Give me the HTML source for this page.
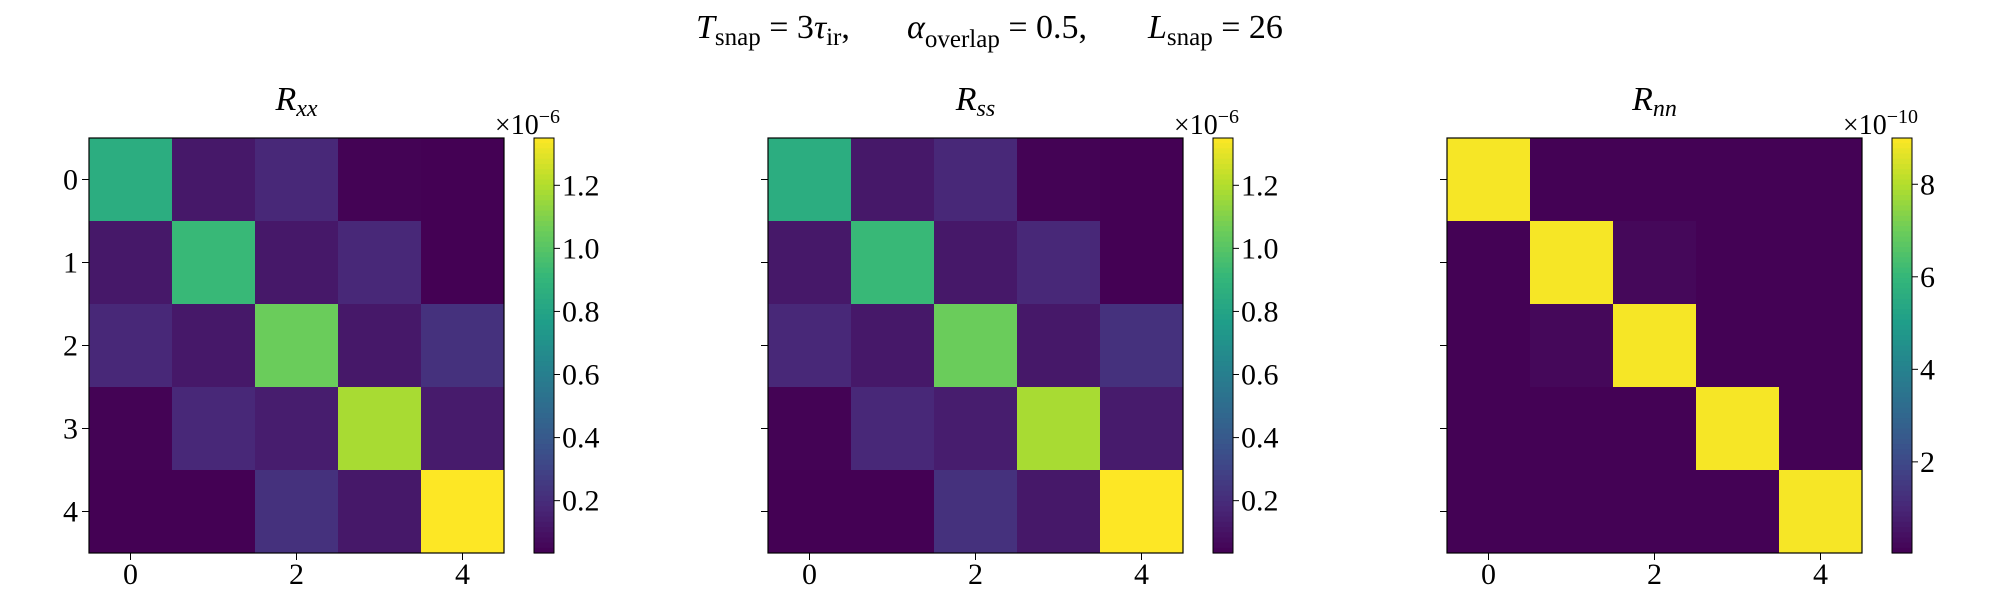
<!DOCTYPE html>
<html><head><meta charset="utf-8">
<style>
html,body{margin:0;padding:0;background:#fff;}
svg text{font-family:"Liberation Serif",serif;fill:#000;}
</style></head>
<body>
<svg id="fig" width="2000" height="600" viewBox="0 0 2000 600" xmlns="http://www.w3.org/2000/svg">
<g font-size="34">
<text x="696" y="38"><tspan font-style="italic">T</tspan><tspan font-size="25" dy="7">snap</tspan><tspan dy="-7"> = 3</tspan><tspan font-style="italic">τ</tspan><tspan font-size="25" dy="7">ir</tspan><tspan dy="-7">,</tspan></text>
<text x="907" y="38"><tspan font-style="italic">α</tspan><tspan font-size="25" dy="9">overlap</tspan><tspan dy="-9"> = 0.5,</tspan></text>
<text x="1148" y="38"><tspan font-style="italic">L</tspan><tspan font-size="25" dy="7">snap</tspan><tspan dy="-7"> = 26</tspan></text>
</g>
</svg>
<script>
const categories = [0,1,2,3,4];
const rxxValues = [
 [0.85,0.12,0.18,0.04,0.035],
 [0.12,0.92,0.12,0.18,0.035],
 [0.18,0.12,1.05,0.12,0.22],
 [0.04,0.18,0.14,1.18,0.13],
 [0.035,0.035,0.22,0.12,1.35]];
const rssValues = [
 [0.85,0.12,0.18,0.04,0.035],
 [0.12,0.92,0.12,0.18,0.035],
 [0.18,0.12,1.05,0.12,0.22],
 [0.04,0.18,0.14,1.18,0.13],
 [0.035,0.035,0.22,0.12,1.35]];
const rnnValues = [
 [8.9,0.05,0.05,0.05,0.05],
 [0.05,8.9,0.2,0.05,0.05],
 [0.05,0.2,8.9,0.05,0.05],
 [0.05,0.05,0.05,8.9,0.05],
 [0.05,0.05,0.05,0.05,8.9]];
const xTickLabels = [0,2,4];
const yTickLabels = [0,1,2,3,4];
const cbTicksR = [0.2,0.4,0.6,0.8,1.0,1.2];
const cbTicksN = [2,4,6,8];

const NS="http://www.w3.org/2000/svg";
const svg=document.getElementById('fig');
function mk(tag,attrs,parent){const e=document.createElementNS(NS,tag);for(const k in attrs)e.setAttribute(k,attrs[k]);(parent||svg).appendChild(e);return e;}
const VIR=[[68,1,84],[72,40,120],[62,74,137],[49,104,142],[38,130,142],[31,158,137],[53,183,121],[109,205,89],[180,222,44],[253,231,37]];
function viridis(t){t=Math.max(0,Math.min(1,t));const p=t*(VIR.length-1);const i=Math.min(Math.floor(p),VIR.length-2);const f=p-i;const a=VIR[i],b=VIR[i+1];return 'rgb('+a.map((v,k)=>Math.round(v+(b[k]-v)*f)).join(',')+')';}

const panels=[
 {name:'rxx',left:89,vals:rxxValues,vmin:0.034,vmax:1.35,ticks:cbTicksR,fmt:v=>v.toFixed(1),exp:'−6',title:'xx',ylabels:true},
 {name:'rss',left:768,vals:rssValues,vmin:0.034,vmax:1.35,ticks:cbTicksR,fmt:v=>v.toFixed(1),exp:'−6',title:'ss',ylabels:false},
 {name:'rnn',left:1447,vals:rnnValues,vmin:0.03,vmax:9.0,ticks:cbTicksN,fmt:v=>String(v),exp:'−10',title:'nn',ylabels:false}];
const TOP=138,SIZE=415,BOTTOM=TOP+SIZE;
panels.forEach(p=>{
  const g=mk('g',{});
  
  
  const cw=SIZE/categories.length;
  const xs=c=>p.left+(c+0.5)*cw, ys=r=>TOP+(r+0.5)*cw;
  const norm=v=>(v-p.vmin)/(p.vmax-p.vmin);
  p.vals.forEach((row,r)=>row.forEach((v,c)=>{
    const cell=mk('rect',{x:xs(c)-cw/2,y:ys(r)-cw/2,width:cw+0.5,height:cw+0.5,fill:viridis(norm(v))},g);
    
    
  }));
  const fr=mk('rect',{x:p.left,y:TOP,width:SIZE,height:SIZE,fill:'none',stroke:'#000','stroke-width':1.2},g);
  
  
  xTickLabels.forEach(t=>{
    mk('line',{x1:xs(t),x2:xs(t),y1:BOTTOM,y2:BOTTOM+7,stroke:'#000','stroke-width':1},g);
    const tx=mk('text',{x:xs(t),y:BOTTOM+31,'font-size':30,'text-anchor':'middle'},g);
    tx.textContent=t;
    
    
  });
  yTickLabels.forEach(t=>{
    mk('line',{x1:p.left-7,x2:p.left,y1:ys(t),y2:ys(t),stroke:'#000','stroke-width':1},g);
    if(p.ylabels){
      const tx=mk('text',{x:p.left-11,y:ys(t)+10,'font-size':30,'text-anchor':'end'},g);
      tx.textContent=t;
      
      
    }
  });
  const ti=mk('text',{x:p.left+SIZE/2,y:110,'font-size':34,'text-anchor':'middle','font-style':'italic'},g);
  ti.innerHTML='R<tspan font-size="24" dy="6">'+p.title+'</tspan>';
  
  
  const cbx=p.left+SIZE+30, cbw=20;
  const cb=mk('g',{},g);
  
  
  const N=80;
  for(let i=0;i<N;i++){
    mk('rect',{x:cbx,y:TOP+SIZE*i/N,width:cbw,height:SIZE/N+0.6,fill:viridis(1-(i+0.5)/N)},cb);
  }
  mk('rect',{x:cbx,y:TOP,width:cbw,height:SIZE,fill:'none',stroke:'#000','stroke-width':1},cb);
  const cy=v=>BOTTOM-(v-p.vmin)/(p.vmax-p.vmin)*SIZE;
  p.ticks.forEach(t=>{
    mk('line',{x1:cbx+cbw,x2:cbx+cbw+6,y1:cy(t),y2:cy(t),stroke:'#000','stroke-width':1},cb);
    const tx=mk('text',{x:cbx+cbw+8,y:cy(t)+10,'font-size':30},cb);
    tx.textContent=p.fmt(t);
    
    
  });
  const ex=mk('text',{x:cbx+cbw+6,y:TOP-4,'font-size':28,'text-anchor':'end'},cb);
  ex.innerHTML='×10<tspan font-size="20" dy="-11">'+p.exp+'</tspan>';
  
  
});
</script>
</body></html>
